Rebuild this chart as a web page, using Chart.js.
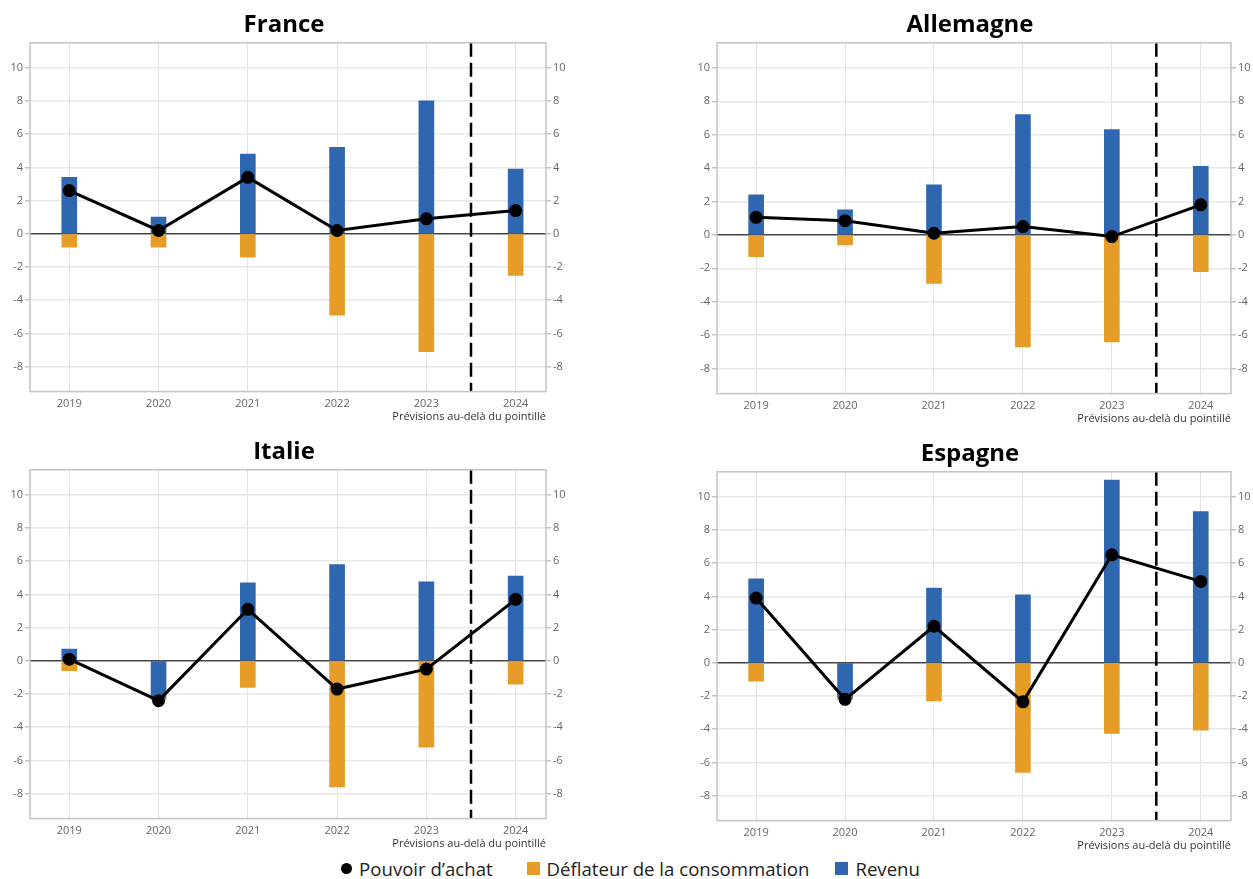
<!DOCTYPE html>
<html lang="fr">
<head>
<meta charset="utf-8">
<script src="https://cdn.jsdelivr.net/npm/chart.js@4/dist/chart.umd.min.js"></script>
<style>
  html, body { margin: 0; padding: 0; background: #fff; }
  body { width: 1253px; height: 879px; position: relative; overflow: hidden; font-family: "Open Sans", sans-serif; }
  .panel { position: absolute; }
  .legend { position: absolute; left: 4px; top: 855px; width: 1253px; height: 26px; display: flex; justify-content: center; align-items: center; font-size: 18.6px; color: #222; }
  .legend span.item { display: flex; align-items: center; }
  .legend i { display: inline-block; margin-right: 7px; }
  .dot { width: 11px; height: 11px; border-radius: 50%; background: #000; }
  .sq { width: 13px; height: 13px; }
</style>
</head>
<body>
<div class="panel" style="left:0;top:0;width:568px;height:425px"><canvas id="chartFR"></canvas></div>
<div class="panel" style="left:687px;top:0;width:566px;height:427px"><canvas id="chartDE"></canvas></div>
<div class="panel" style="left:0;top:427px;width:568px;height:425px"><canvas id="chartIT"></canvas></div>
<div class="panel" style="left:687px;top:429px;width:566px;height:425px"><canvas id="chartES"></canvas></div>
<div class="legend">
  <span class="item" style="margin-right:34px"><i class="dot"></i>Pouvoir d’achat</span>
  <span class="item" style="margin-right:26px"><i class="sq" style="background:#E59D28"></i>Déflateur de la consommation</span>
  <span class="item"><i class="sq" style="background:#2E67B0"></i>Revenu</span>
</div>
<script>
// années et graduations
const years = [2019, 2020, 2021, 2022, 2023, 2024];
const yTicks = [-8, -6, -4, -2, 0, 2, 4, 6, 8, 10];
const forecastStart = 2023.5;

// France
const frRevenu = [3.4, 1.0, 4.8, 5.2, 8.0, 3.9];
const frDeflateur = [-0.8, -0.8, -1.4, -4.9, -7.1, -2.5];
const frPouvoir = [2.6, 0.2, 3.4, 0.2, 0.9, 1.4];

// Allemagne
const deRevenu = [2.4, 1.5, 3.0, 7.2, 6.3, 4.1];
const deDeflateur = [-1.3, -0.6, -2.9, -6.7, -6.4, -2.2];
const dePouvoir = [1.05, 0.85, 0.1, 0.5, -0.1, 1.8];

// Italie
const itRevenu = [0.7, -2.2, 4.7, 5.8, 4.75, 5.1];
const itDeflateur = [-0.6, -0.15, -1.6, -7.6, -5.2, -1.4];
const itPouvoir = [0.1, -2.4, 3.1, -1.7, -0.5, 3.7];

// Espagne
const esRevenu = [5.05, -2.1, 4.5, 4.1, 11.0, 9.1];
const esDeflateur = [-1.1, -0.12, -2.3, -6.6, -4.25, -4.05];
const esPouvoir = [3.9, -2.2, 2.2, -2.35, 6.5, 4.9];

const BLUE = "#2E67B0";
const ORANGE = "#E59D28";
const FONT = "'Open Sans', 'Noto Sans', sans-serif";

const forecastLine = {
    id: "forecastLine",
    afterDatasetsDraw(chart) {
        const { ctx, chartArea: a, scales } = chart;
        const px = scales.x.getPixelForValue(forecastStart);
        ctx.save();
        ctx.strokeStyle = "#000";
        ctx.lineWidth = 2.5;
        ctx.setLineDash([14, 6]);
        ctx.beginPath();
        ctx.moveTo(px, a.top);
        ctx.lineTo(px, a.bottom);
        ctx.stroke();
        ctx.restore();
    },
    afterDraw(chart) {
        const { ctx, chartArea: a } = chart;
        ctx.save();
        ctx.strokeStyle = "#c4c4c4";
        ctx.lineWidth = 1.5;
        ctx.strokeRect(a.left, a.top, a.right - a.left, a.bottom - a.top);
        ctx.restore();
    },
};

function pts(arr) {
    return years.map((yr, i) => ({ x: yr, y: arr[i] }));
}

function makeChart(id, title, revenu, deflateur, pouvoir) {
    const el = document.getElementById(id);
    const yAxis = (pos) => ({
        type: "linear",
        position: pos,
        min: -9.5,
        max: 11.5,
        stacked: pos === "left",
        afterBuildTicks: (s) => { s.ticks = yTicks.map((v) => ({ value: v })); },
        afterFit: (s) => { s.width = pos === "left" ? 30 : 22; },
        border: { display: false },
        grid: {
            display: true,
            drawOnChartArea: pos === "left",
            tickLength: 5,
            tickColor: "#c4c4c4",
            lineWidth: 1.5,
            color: (c) => (c.tick && c.tick.value === 0 ? "#444" : "#e8e8e8"),
        },
        ticks: {
            padding: 2,
            color: "#666",
            font: { family: FONT, size: 11 },
            callback: (v) => String(v),
        },
    });
    return new Chart(el, {
        data: {
            datasets: [
                {
                    type: "line",
                    label: "Pouvoir d’achat",
                    data: pts(pouvoir),
                    borderColor: "#000",
                    backgroundColor: "#000",
                    borderWidth: 3,
                    pointRadius: 5,
                    pointBackgroundColor: "#000",
                    tension: 0,
                    yAxisID: "y",
                },
                {
                    type: "bar",
                    label: "Revenu",
                    data: pts(revenu),
                    backgroundColor: BLUE,
                    barThickness: 15,
                    stack: "s",
                    yAxisID: "y",
                },
                {
                    type: "bar",
                    label: "Déflateur de la consommation",
                    data: pts(deflateur),
                    backgroundColor: ORANGE,
                    barThickness: 15,
                    stack: "s",
                    yAxisID: "y",
                },
            ],
        },
        options: {
            responsive: true,
            maintainAspectRatio: false,
            animation: false,
            layout: { padding: { left: 0, right: 0, top: 0, bottom: 0 } },
            plugins: {
                legend: { display: false },
                tooltip: { enabled: false },
                title: {
                    display: true,
                    text: title,
                    color: "#000",
                    font: { family: FONT, size: 24, weight: "bold" },
                    padding: { top: 11, bottom: 3 },
                },
            },
            scales: {
                x: {
                    type: "linear",
                    min: 2018.56,
                    max: 2024.34,
                    offset: false,
                    stacked: true,
                    afterBuildTicks: (s) => { s.ticks = years.map((v) => ({ value: v })); },
                    border: { display: false },
                    grid: { color: "#e3e3e3", lineWidth: 1, drawTicks: false, offset: false },
                    ticks: {
                        padding: 6,
                        color: "#666",
                        font: { family: FONT, size: 11 },
                        callback: (v) => String(v),
                    },
                    title: {
                        display: true,
                        text: "Prévisions au-delà du pointillé",
                        align: "end",
                        color: "#333",
                        font: { family: FONT, size: 11 },
                        padding: { top: -7, bottom: 2 },
                    },
                },
                y: yAxis("left"),
                y2: yAxis("right"),
            },
        },
        plugins: [forecastLine],
    });
}

makeChart("chartFR", "France", frRevenu, frDeflateur, frPouvoir);
makeChart("chartDE", "Allemagne", deRevenu, deDeflateur, dePouvoir);
makeChart("chartIT", "Italie", itRevenu, itDeflateur, itPouvoir);
makeChart("chartES", "Espagne", esRevenu, esDeflateur, esPouvoir);
</script>
</body>
</html>
